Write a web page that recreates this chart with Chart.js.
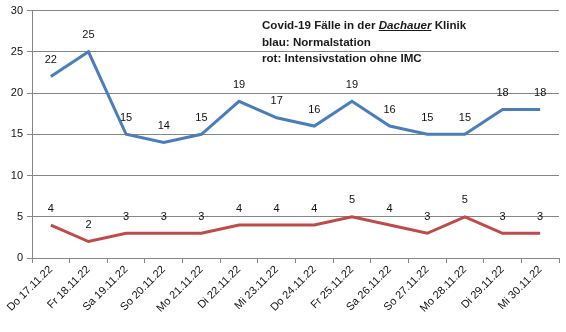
<!DOCTYPE html>
<html>
<head>
<meta charset="utf-8">
<script src="https://cdn.jsdelivr.net/npm/chart.js@4"></script>
<style>
  html, body { margin: 0; padding: 0; background: #fff; }
  #wrap { position: relative; width: 566px; height: 332px; }
  #info {
    position: absolute; left: 262px; top: 17px;
    font: bold 11.6px "Liberation Sans", Arial, sans-serif;
    color: #1a1a1a; line-height: 16.5px; white-space: nowrap;
  }
  #info em { font-style: italic; text-decoration: underline; }
</style>
</head>
<body>
<div id="wrap">
  <canvas id="chart" width="566" height="332"></canvas>
  <div id="info">
    Covid-19 Fälle in der <em>Dachauer</em> Klinik<br>
    blau: Normalstation<br>
    rot: Intensivstation ohne IMC
  </div>
</div>
<script>
// --- data ---
const days = ["Do 17.11.22", "Fr 18.11.22", "Sa 19.11.22", "So 20.11.22", "Mo 21.11.22",
              "Di 22.11.22", "Mi 23.11.22", "Do 24.11.22", "Fr 25.11.22", "Sa 26.11.22",
              "So 27.11.22", "Mo 28.11.22", "Di 29.11.22", "Mi 30.11.22"];
const normalstation = [22, 25, 15, 14, 15, 19, 17, 16, 19, 16, 15, 15, 18, 18];
const intensivstation = [4, 2, 3, 3, 3, 4, 4, 4, 5, 4, 3, 5, 3, 3];
const yTicks = [0, 5, 10, 15, 20, 25, 30];

const FONT = "'Liberation Sans', Arial, sans-serif";
const GRID = '#868686';

// value labels above each point
const valueLabels = {
    id: 'valueLabels',
    afterDatasetsDraw(chart) {
        const ctx = chart.ctx;
        ctx.save();
        ctx.font = '11px ' + FONT;
        ctx.fillStyle = '#111';
        ctx.textAlign = 'center';
        ctx.textBaseline = 'bottom';
        chart.data.datasets.forEach((ds, i) => {
            chart.getDatasetMeta(i).data.forEach((pt, j) => {
                ctx.fillText(ds.data[j], pt.x, pt.y - 11);
            });
        });
        ctx.restore();
    }
};

new Chart(document.getElementById('chart'), {
    type: 'line',
    data: {
        labels: days,
        datasets: [
            { data: normalstation, borderColor: '#4a7ebb', borderWidth: 3, pointRadius: 0, tension: 0 },
            { data: intensivstation, borderColor: '#be4b48', borderWidth: 3, pointRadius: 0, tension: 0 }
        ]
    },
    options: {
        responsive: false,
        animation: false,
        layout: { padding: { top: 10, right: 7, left: 0, bottom: 0 } },
        plugins: { legend: { display: false }, tooltip: { enabled: false } },
        scales: {
            x: {
                offset: true,
                grid: { offset: true, drawOnChartArea: false, tickLength: 5, color: GRID },
                border: { color: GRID },
                ticks: {
                    autoSkip: false, maxRotation: 45, minRotation: 45,
                    color: '#111', font: { family: FONT, size: 11 }, padding: 0
                },
                afterFit(scale) { scale.height = 74; }
            },
            y: {
                min: 0, max: 30,
                afterBuildTicks(scale) { scale.ticks = yTicks.map(v => ({ value: v })); },
                grid: { color: GRID, tickLength: 5 },
                border: { color: GRID },
                ticks: { color: '#111', font: { family: FONT, size: 11 }, padding: 4 },
                afterFit(scale) { scale.width = 32; }
            }
        }
    },
    plugins: [valueLabels]
});
</script>
</body>
</html>
